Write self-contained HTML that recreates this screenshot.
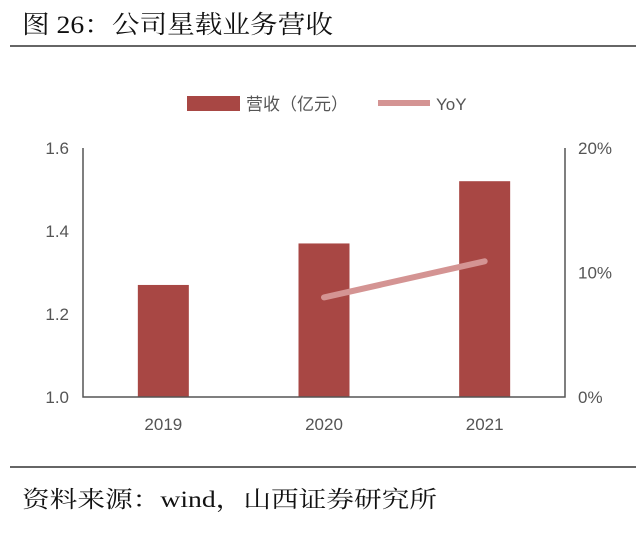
<!DOCTYPE html>
<html><head><meta charset="utf-8"><style>
body{margin:0;background:#fff;width:636px;height:536px;overflow:hidden;font-family:"Liberation Sans","Noto Sans CJK SC",sans-serif;}
</style></head><body>
<svg width="636" height="536" xmlns="http://www.w3.org/2000/svg">
<text x="22" y="33" font-size="25" textLength="311" lengthAdjust="spacingAndGlyphs" fill="#111" font-family="'Liberation Serif','Noto Serif CJK SC',serif">图 26：公司星载业务营收</text>
<line x1="10" y1="46" x2="636" y2="46" stroke="#333" stroke-width="1.5"/>
<line x1="10" y1="467" x2="636" y2="467" stroke="#333" stroke-width="1.5"/>
<text x="22" y="507" font-size="23" textLength="415" lengthAdjust="spacingAndGlyphs" fill="#111" font-family="'Liberation Serif','Noto Serif CJK SC',serif">资料来源：wind，山西证券研究所</text>
<g>
<rect x="187" y="96" width="53" height="15" fill="#A84744"/>
<text x="246" y="110" font-size="17" fill="#555">营收（亿元）</text>
<line x1="378" y1="103" x2="430" y2="103" stroke="#D49493" stroke-width="6"/>
<text x="436" y="110" font-size="17" fill="#555">YoY</text>
</g>
<g id="plot"></g>
</svg>
<script>
const categories=["2019","2020","2021"];
const revenue=[1.27,1.37,1.52];
const yoy=[null,0.080,0.109];
const leftTicks=[1.0,1.2,1.4,1.6];
const leftTickLabels=["1.0","1.2","1.4","1.6"];
const rightTicks=[0,0.1,0.2];
const rightTickLabels=["0%","10%","20%"];

const NS="http://www.w3.org/2000/svg";
const g=document.getElementById('plot');
const X0=83,X1=565,YT=148,YB=397;
const yL=v=>YB-(v-1.0)/(1.6-1.0)*(YB-YT);
const yR=v=>YB-(v-0)/(0.2-0)*(YB-YT);
const step=(X1-X0)/categories.length;
const xC=i=>X0+step*(i+0.5);
function mk(t,a){const e=document.createElementNS(NS,t);for(const k in a)e.setAttribute(k,a[k]);g.appendChild(e);return e;}

revenue.forEach((v,i)=>{
  const r=mk('rect',{x:xC(i)-25.5,y:yL(v),width:51,height:YB-yL(v),fill:'#A84744'});
  
  
});
const pts=[];yoy.forEach((v,i)=>{if(v!==null)pts.push(xC(i)+','+yR(v));});
const pl=mk('polyline',{points:pts.join(' '),fill:'none',stroke:'#D49493','stroke-width':6,'stroke-linecap':'round'});



const la=mk('path',{d:`M${X0},${YT}V${YB}H${X1}V${YT}`,fill:'none',stroke:'#555','stroke-width':1.5});



leftTicks.forEach((v,i)=>{
  const t=mk('text',{x:69,y:yL(v)+6,'font-size':17,fill:'#555','text-anchor':'end'});t.textContent=leftTickLabels[i];
  
  
});
rightTicks.forEach((v,i)=>{
  const t=mk('text',{x:578,y:yR(v)+6,'font-size':17,fill:'#555'});t.textContent=rightTickLabels[i];
  
  
});
categories.forEach((c,i)=>{
  const t=mk('text',{x:xC(i),y:430,'font-size':17,fill:'#555','text-anchor':'middle'});t.textContent=c;
  
  
});
</script>
</body></html>
